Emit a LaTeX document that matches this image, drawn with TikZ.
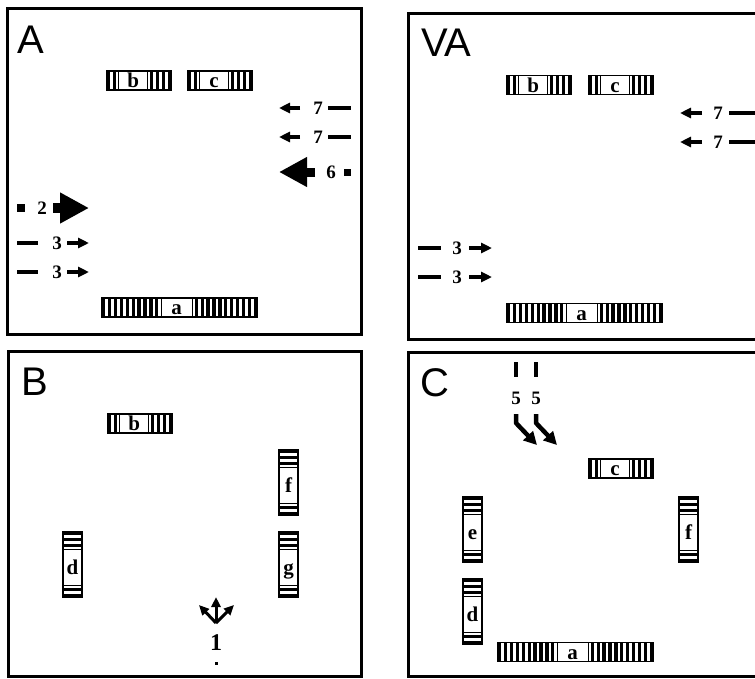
\documentclass[tikz,border=0pt]{standalone}
\usepackage{fontspec}
\setmainfont{Liberation Serif}
\newfontfamily\panelfont{Liberation Sans}
\usetikzlibrary{arrows.meta}

\tikzset{
  frame/.style={line width=3pt},
  panel label/.style={font=\panelfont\fontsize{40}{40}\selectfont, anchor=base west, inner sep=0pt},
  chrom label/.style={font=\bfseries\fontsize{21}{21}\selectfont, inner sep=0pt, text height=14pt, text depth=0pt},
  num/.style={font=\bfseries\fontsize{19}{19}\selectfont, inner sep=0pt},
  tick/.style={line width=3.5pt},
  thin arrow/.style={line width=3.5pt, -{Triangle[length=11pt,width=10pt]}},
  fat arrow/.style={line width=9pt, -{Triangle[length=28pt,width=28pt]}},
  bent arrow/.style={line width=4.5pt, line join=round, -{Triangle[length=13pt,width=13pt]}},
}
\newcommand{\pitch}{5.9}
\newcommand{\band}{3.3}

% banded bar: name, origin, rotation, bands at start, middle length, bands at end, label
\newcommand{\chrom}[7]{%
  \begin{scope}[shift={#2}, rotate=#3]
    \pgfmathsetmacro{\cwa}{#4*\pitch}
    \pgfmathsetmacro{\cwt}{\cwa+#5+#6*\pitch}
    \foreach \k in {1,...,#4} {\fill ({(\k-1)*\pitch},-9.5) rectangle ++(\band,19);}
    \foreach \k in {1,...,#6} {\fill ({\cwt-(\k-1)*\pitch},-9.5) rectangle ++(-\band,19);}
    \draw[line width=0.8pt] (\cwa,-9.5) rectangle ++(#5,19);
    \draw[line width=1.8pt] (0,-9.5) rectangle (\cwt,9.5);
    \node[chrom label] (#1) at ({\cwa+#5/2},0) {#7};
  \end{scope}}

\begin{document}
\begin{tikzpicture}[x=1pt, y=-1pt]
  \useasboundingbox (0,0) rectangle (755,678);

  % panel A
  \draw[frame] (7,8) rectangle (361,334);
  \node[panel label] (labA) at (17,53) {A};
  \chrom{Ab}{(107,80.5)}{0}{2}{28.6}{4}{b}
  \chrom{Ac}{(188,80.5)}{0}{2}{28.6}{4}{c}
  \chrom{Aa}{(102,307.5)}{0}{10}{31}{11}{a}
  \foreach \y [count=\i] in {108,137} {
    \draw[thin arrow] (300,\y) -- (279,\y);
    \node[num] (A7\i) at (318,\y) {7};
    \draw[tick] (328,\y) -- (351,\y);
  }
  \draw[fat arrow] (315,172) -- (279,172);
  \node[num] (A6) at (331,172) {6};
  \fill (344,168.5) rectangle (351,175.5);
  \fill (17,204) rectangle (25,212);
  \node[num] (A2) at (42,208) {2};
  \draw[fat arrow, line width=10pt, -{Triangle[length=29pt,width=29pt]}] (53,208) -- (89,208);
  \foreach \y [count=\i] in {243,272} {
    \draw[tick] (17,\y) -- (38,\y);
    \node[num] (A3\i) at (57,\y) {3};
    \draw[thin arrow] (67,\y) -- (89,\y);
  }

  % panel VA
  \draw[frame] (408,13) rectangle (775,339);
  \node[panel label] (labVA) at (421,56) {VA};
  \chrom{VAb}{(507,85)}{0}{2}{28.6}{4}{b}
  \chrom{VAc}{(589,85)}{0}{2}{28.6}{4}{c}
  \chrom{VAa}{(507,313)}{0}{10}{31}{11}{a}
  \foreach \y [count=\i] in {113,142} {
    \draw[thin arrow] (702,\y) -- (680,\y);
    \node[num] (VA7\i) at (718,\y) {7};
    \draw[tick] (729,\y) -- (760,\y);
  }
  \foreach \y [count=\i] in {248,277} {
    \draw[tick] (418,\y) -- (441,\y);
    \node[num] (VA3\i) at (457,\y) {3};
    \draw[thin arrow] (469,\y) -- (492,\y);
  }

  % panel B
  \draw[frame] (8,351) rectangle (361,676);
  \node[panel label] (labB) at (21,395) {B};
  \chrom{Bb}{(108,423.5)}{0}{2}{28.6}{4}{b}
  \chrom{Bf}{(288.5,450)}{-90}{3}{35.5}{2}{f}
  \chrom{Bg}{(288.5,532)}{-90}{3}{35.5}{2}{g}
  \chrom{Bd}{(72.5,532)}{-90}{3}{35.5}{2}{d}
  \coordinate (O1) at (216,623);
  \foreach \t in {(216,597),(199,605),(234,605)}
    \draw[thin arrow, line width=3pt, -{Triangle[length=10pt,width=9pt]}] (O1) -- \t;
  \node[num, font=\bfseries\fontsize{24}{24}\selectfont] (B1) at (216,643) {1};
  \fill (214.5,661.5) rectangle ++(3,3);

  % panel C
  \draw[frame] (408,352) rectangle (775,676);
  \node[panel label] (labC) at (420,396) {C};
  \foreach \x [count=\i] in {516,536} {
    \draw[tick] (\x,362) -- (\x,377);
    \node[num] (C5\i) at (\x,398) {5};
    \draw[bent arrow] (\x,414) -- (\x,423) -- ({\x+21},445);
  }
  \chrom{Cc}{(589,468.5)}{0}{2}{28.6}{4}{c}
  \chrom{Ce}{(472.5,497)}{-90}{3}{35.5}{2}{e}
  \chrom{Cf}{(688.5,497)}{-90}{3}{35.5}{2}{f}
  \chrom{Cd}{(472.5,579)}{-90}{3}{35.5}{2}{d}
  \chrom{Ca}{(498,652)}{0}{10}{31}{11}{a}
\end{tikzpicture}
\end{document}
